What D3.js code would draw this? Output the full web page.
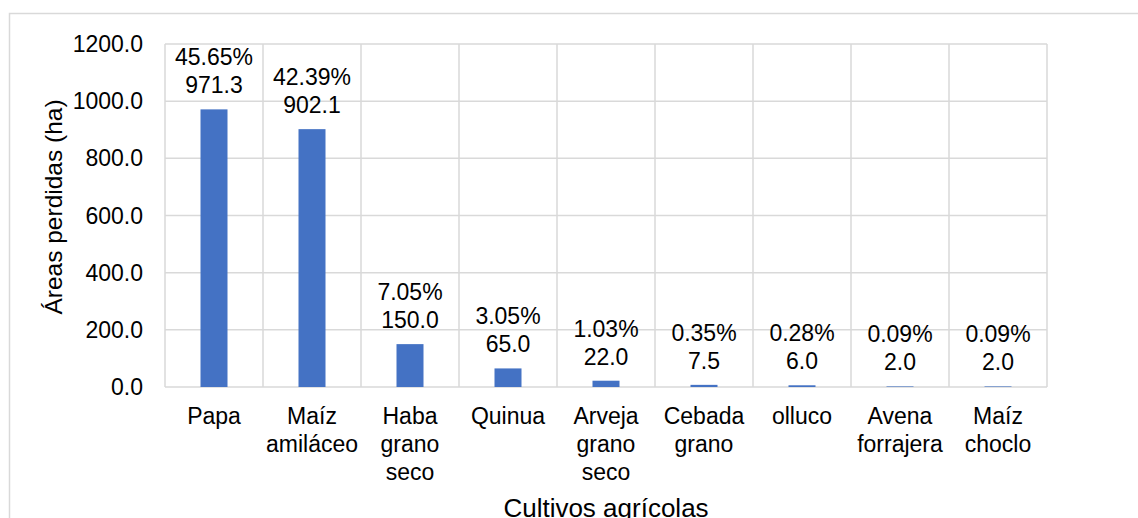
<!DOCTYPE html>
<html>
<head>
<meta charset="utf-8">
<script src="https://cdn.jsdelivr.net/npm/d3@7"></script>
<style>
  body { margin: 0; background: #fff; }
  text { font-family: "Liberation Sans", Arial, sans-serif; fill: #000; }
</style>
</head>
<body>
<div id="viz-container"></div>
<script>
// chart data
let cultivos = [["Papa"], ["Maíz", "amiláceo"], ["Haba", "grano", "seco"], ["Quinua"],
                ["Arveja", "grano", "seco"], ["Cebada", "grano"], ["olluco"],
                ["Avena", "forrajera"], ["Maíz", "choclo"]];
let areas = [971.3, 902.1, 150.0, 65.0, 22.0, 7.5, 6.0, 2.0, 2.0];
let porcentajes = ["45.65%", "42.39%", "7.05%", "3.05%", "1.03%", "0.35%", "0.28%", "0.09%", "0.09%"];
let yTicks = [0, 200, 400, 600, 800, 1000, 1200];

let W = 1138, H = 518;
let pLeft = 165, pRight = 1047, pTop = 44, pBottom = 387;
let fs = 23;

let viz = d3.select("#viz-container")
    .append("svg")
    .attr("width", W)
    .attr("height", H);

// outer chart border (runs off the right and bottom of the picture)
viz.append("rect")
    .attr("x", 9.5).attr("y", 13.5)
    .attr("width", W + 20).attr("height", H + 20)
    .attr("fill", "none")
    .attr("stroke", "#d9d9d9")
    .attr("stroke-width", 1.5);

let x = d3.scaleBand()
    .domain(d3.range(cultivos.length))
    .range([pLeft, pRight])
    .paddingInner(0).paddingOuter(0);

let y = d3.scaleLinear().domain([0, 1200]).range([pBottom, pTop]);

// horizontal gridlines
viz.append("g").selectAll("line").data(yTicks).enter().append("line")
    .attr("x1", pLeft).attr("x2", pRight)
    .attr("y1", d => y(d)).attr("y2", d => y(d))
    .attr("stroke", "#d9d9d9").attr("stroke-width", 1.5);

// vertical gridlines at category boundaries
let bounds = d3.range(cultivos.length + 1).map(i => i < cultivos.length ? x(i) : pRight);
viz.append("g").selectAll("line").data(bounds).enter().append("line")
    .attr("x1", d => d).attr("x2", d => d)
    .attr("y1", pTop).attr("y2", pBottom)
    .attr("stroke", "#d9d9d9").attr("stroke-width", 1.5);

// y axis tick labels
viz.append("g").selectAll("text").data(yTicks).enter().append("text")
    .attr("x", 143)
    .attr("y", d => y(d))
    .attr("dy", "0.35em")
    .attr("text-anchor", "end")
    .style("font-size", fs + "px")
    .text(d => d.toFixed(1));

// bars
let barW = 27;
viz.append("g").selectAll("rect").data(areas).enter().append("rect")
    .attr("x", (d, i) => x(i) + x.bandwidth() / 2 - barW / 2)
    .attr("y", d => y(d))
    .attr("width", barW)
    .attr("height", d => pBottom - y(d))
    .attr("fill", "#4472c4");

// data labels: percentage over value
let labels = viz.append("g").selectAll("g").data(areas).enter().append("g")
    .attr("transform", (d, i) => "translate(" + (x(i) + x.bandwidth() / 2) + "," + (y(d) - 16) + ")");
labels.append("text")
    .attr("y", -28)
    .attr("text-anchor", "middle")
    .style("font-size", fs + "px")
    .text((d, i) => porcentajes[i]);
labels.append("text")
    .attr("y", 0)
    .attr("text-anchor", "middle")
    .style("font-size", fs + "px")
    .text(d => d.toFixed(1));

// category labels (multi-line)
let cats = viz.append("g").selectAll("text").data(cultivos).enter().append("text")
    .attr("text-anchor", "middle")
    .style("font-size", fs + "px");
cats.selectAll("tspan").data((d, i) => d.map(s => ({ s: s, i: i }))).enter().append("tspan")
    .attr("x", d => x(d.i) + x.bandwidth() / 2)
    .attr("y", (d, j) => 424 + j * 28)
    .text(d => d.s);

// axis titles
viz.append("text")
    .attr("transform", "translate(62,207) rotate(-90)")
    .attr("text-anchor", "middle")
    .style("font-size", "24.5px")
    .text("Áreas perdidas (ha)");

viz.append("text")
    .attr("x", (pLeft + pRight) / 2)
    .attr("y", 517)
    .attr("text-anchor", "middle")
    .style("font-size", "26px")
    .text("Cultivos agrícolas");
</script>
</body>
</html>
